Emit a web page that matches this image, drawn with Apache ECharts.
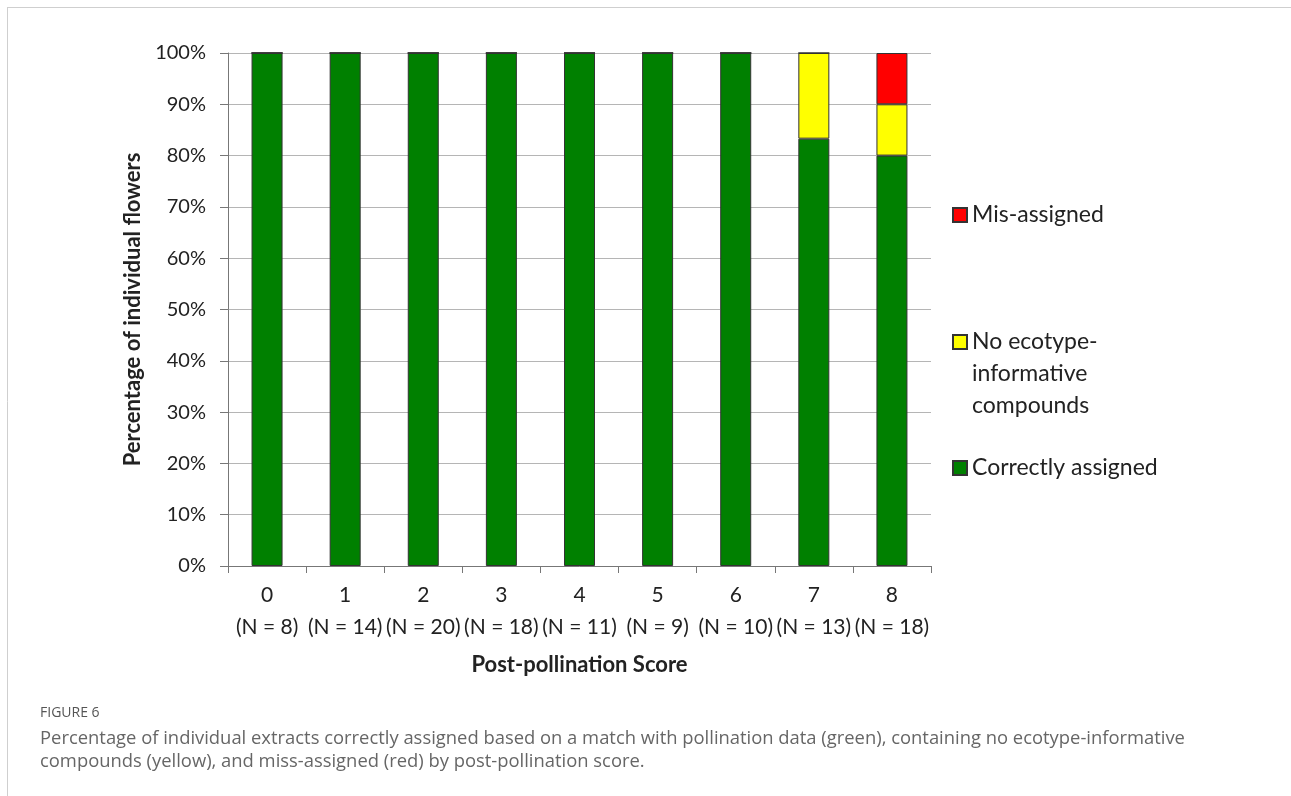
<!DOCTYPE html>
<html>
<head>
    <meta charset="utf-8"/>
    <style>
        html, body {
            height: 100%;
            margin: 0;
            padding: 0;
            background: #fff;
        }

        .container {
            width: 1291px;
            height: 796px;
        }
    </style>
</head>
<body>
<div id="main" class="container"></div>
<script src="https://cdn.jsdelivr.net/npm/echarts@6/dist/echarts.min.js"></script>
<script type="text/javascript">
// post-pollination scores and sample sizes
var scores = ['0', '1', '2', '3', '4', '5', '6', '7', '8'];
var sampleN = [8, 14, 20, 18, 11, 9, 10, 13, 18];
// percentages per score
var correctlyAssigned = [100, 100, 100, 100, 100, 100, 100, 83.3, 80];
var noInformative = [0, 0, 0, 0, 0, 0, 0, 16.7, 10];
var misAssigned = [0, 0, 0, 0, 0, 0, 0, 0, 10];
var yTicks = [0, 10, 20, 30, 40, 50, 60, 70, 80, 90, 100];

var chartFont = 'Lato';
var textColor = '#222';
var gridColor = '#b5b5b5';
var axisColor = '#777';

var categories = [];
for (var i = 0; i < scores.length; i++) {
    categories.push(scores[i] + '\n(N = ' + sampleN[i] + ')');
}

var myChart = echarts.init(document.getElementById('main'), null, {renderer: 'canvas'});

function barSeries(name, data, color) {
    return {
        name: name,
        type: 'bar',
        stack: 'total',
        barWidth: 31,
        data: data,
        itemStyle: {
            color: color,
            borderColor: '#333',
            borderWidth: 1
        }
    };
}

function legendItem(name, top) {
    return {
        left: 952,
        top: top,
        orient: 'vertical',
        padding: 0,
        itemWidth: 14,
        itemHeight: 14,
        itemGap: 6,
        selectedMode: false,
        icon: 'rect',
        data: [name],
        formatter: function (n) {
            if (n === 'No ecotype-informative compounds') {
                return '\n\nNo ecotype-\ninformative\ncompounds';
            }
            return n;
        },
        textStyle: {
            fontFamily: chartFont,
            fontSize: 23,
            color: textColor,
            lineHeight: 32,
            padding: 0
        }
    };
}

var option = {
    animation: false,
    backgroundColor: '#fff',
    grid: {
        left: 228,
        top: 53,
        right: 360,
        bottom: 230,
        containLabel: false
    },
    legend: [
        legendItem('Mis-assigned', 199),
        legendItem('No ecotype-informative compounds', 262),
        legendItem('Correctly assigned', 452)
    ],
    xAxis: {
        type: 'category',
        data: categories,
        name: 'Post-pollination Score',
        nameLocation: 'middle',
        nameGap: 88,
        nameTextStyle: {
            fontFamily: chartFont,
            fontSize: 22,
            fontWeight: 'bold',
            color: textColor
        },
        axisLine: {lineStyle: {color: axisColor, width: 1}},
        axisTick: {show: true, length: 7, lineStyle: {color: axisColor}},
        axisLabel: {
            fontFamily: chartFont,
            fontSize: 21,
            color: textColor,
            lineHeight: 32,
            margin: 13,
            interval: 0
        },
        splitLine: {show: false}
    },
    yAxis: {
        type: 'value',
        min: 0,
        max: 100,
        interval: 10,
        name: 'Percentage of individual flowers',
        nameLocation: 'middle',
        nameGap: 80,
        nameTextStyle: {
            fontFamily: chartFont,
            fontSize: 22,
            fontWeight: 'bold',
            color: textColor
        },
        axisLine: {show: true, lineStyle: {color: axisColor, width: 1}},
        axisTick: {show: true, length: 8, lineStyle: {color: axisColor}},
        axisLabel: {
            fontFamily: chartFont,
            fontSize: 20,
            color: textColor,
            margin: 22,
            formatter: function (v) {
                return yTicks.indexOf(v) >= 0 ? v + '%' : '';
            }
        },
        splitLine: {show: true, lineStyle: {color: gridColor, width: 1}}
    },
    series: [
        barSeries('Correctly assigned', correctlyAssigned, '#008000'),
        barSeries('No ecotype-informative compounds', noInformative, '#ffff00'),
        barSeries('Mis-assigned', misAssigned, '#ff0000')
    ],
    graphic: [
        {
            type: 'line',
            shape: {x1: 7, y1: 7.5, x2: 1291, y2: 7.5},
            style: {stroke: '#cfcfcf', lineWidth: 1}
        },
        {
            type: 'line',
            shape: {x1: 7.5, y1: 7, x2: 7.5, y2: 796},
            style: {stroke: '#cfcfcf', lineWidth: 1}
        },
        {
            type: 'text',
            left: 40,
            top: 706,
            style: {
                text: 'FIGURE 6',
                fontFamily: 'Open Sans',
                fontSize: 14,
                fill: '#555'
            }
        },
        {
            type: 'text',
            left: 40,
            top: 727,
            style: {
                text: 'Percentage of individual extracts correctly assigned based on a match with pollination data (green), containing no ecotype-informative\ncompounds (yellow), and miss-assigned (red) by post-pollination score.',
                fontFamily: 'Open Sans',
                fontSize: 18.4,
                lineHeight: 23,
                fill: '#666'
            }
        }
    ]
};

myChart.setOption(option);
</script>
</body>
</html>
